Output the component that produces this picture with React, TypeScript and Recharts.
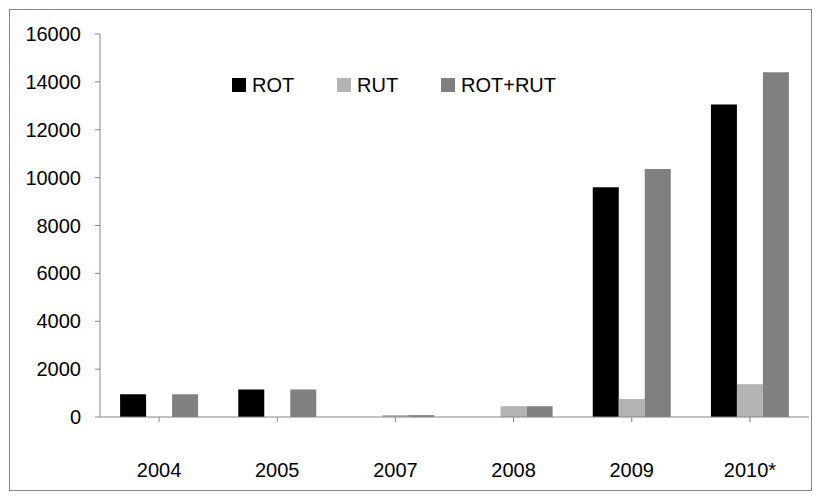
import { BarChart, Bar, XAxis, YAxis, Legend } from "recharts";

const years = ["2004", "2005", "2007", "2008", "2009", "2010*"];
const rot = [950, 1150, 0, 0, 9600, 13060];
const rut = [0, 0, 80, 450, 750, 1370];
const rotRut = [950, 1150, 80, 450, 10360, 14400];
const yTicks = [0, 2000, 4000, 6000, 8000, 10000, 12000, 14000, 16000];

const series = [
  { key: "rot", name: "ROT", color: "#000000" },
  { key: "rut", name: "RUT", color: "#b3b3b3" },
  { key: "rotRut", name: "ROT+RUT", color: "#808080" },
];

const data = years.map((year, i) => ({
  year,
  rot: rot[i],
  rut: rut[i],
  rotRut: rotRut[i],
}));

const AXIS = "#868686";
const FONT = "'Liberation Sans', Arial, sans-serif";
const legendOffsets = [0, 105, 209];

function ChartLegend() {
  return (
    <div style={{ position: "relative", height: 14, width: 340 }}>
      {series.map((s, i) => (
        <div
          key={s.key}
          style={{
            position: "absolute",
            left: legendOffsets[i],
            top: 0,
            display: "flex",
            alignItems: "center",
            height: 14,
          }}
        >
          <span style={{ width: 14, height: 14, background: s.color, display: "inline-block" }} />
          <span
            style={{
              marginLeft: 6,
              fontFamily: FONT,
              fontSize: 20,
              color: "#000",
              lineHeight: "14px",
            }}
          >
            {s.name}
          </span>
        </div>
      ))}
    </div>
  );
}

export default function App() {
  return (
    <div
      style={{
        width: 801,
        height: 480,
        border: `1px solid ${AXIS}`,
        marginLeft: 1,
        marginTop: 1,
        background: "#fff",
      }}
    >
      <BarChart
        width={801}
        height={480}
        data={data}
        margin={{ top: 24, right: 2, left: 0, bottom: 0 }}
        barCategoryGap="17%"
        barGap={0}
      >
        <XAxis
          dataKey="year"
          height={59}
          stroke={AXIS}
          tickLine={{ stroke: AXIS }}
          tickSize={5}
          tickMargin={41}
          tick={{ fill: "#000", fontFamily: FONT, fontSize: 20 }}
        />
        <YAxis
          width={90}
          domain={[0, 16000]}
          ticks={yTicks}
          interval={0}
          stroke={AXIS}
          tickLine={{ stroke: AXIS }}
          tickSize={5}
          tickMargin={14}
          tick={{ fill: "#000", fontFamily: FONT, fontSize: 20 }}
        />
        <Legend
          content={<ChartLegend />}
          wrapperStyle={{ position: "absolute", top: 68, left: 222, width: 340 }}
        />
        {series.map((s) => (
          <Bar key={s.key} dataKey={s.key} name={s.name} fill={s.color} isAnimationActive={false} />
        ))}
      </BarChart>
    </div>
  );
}
